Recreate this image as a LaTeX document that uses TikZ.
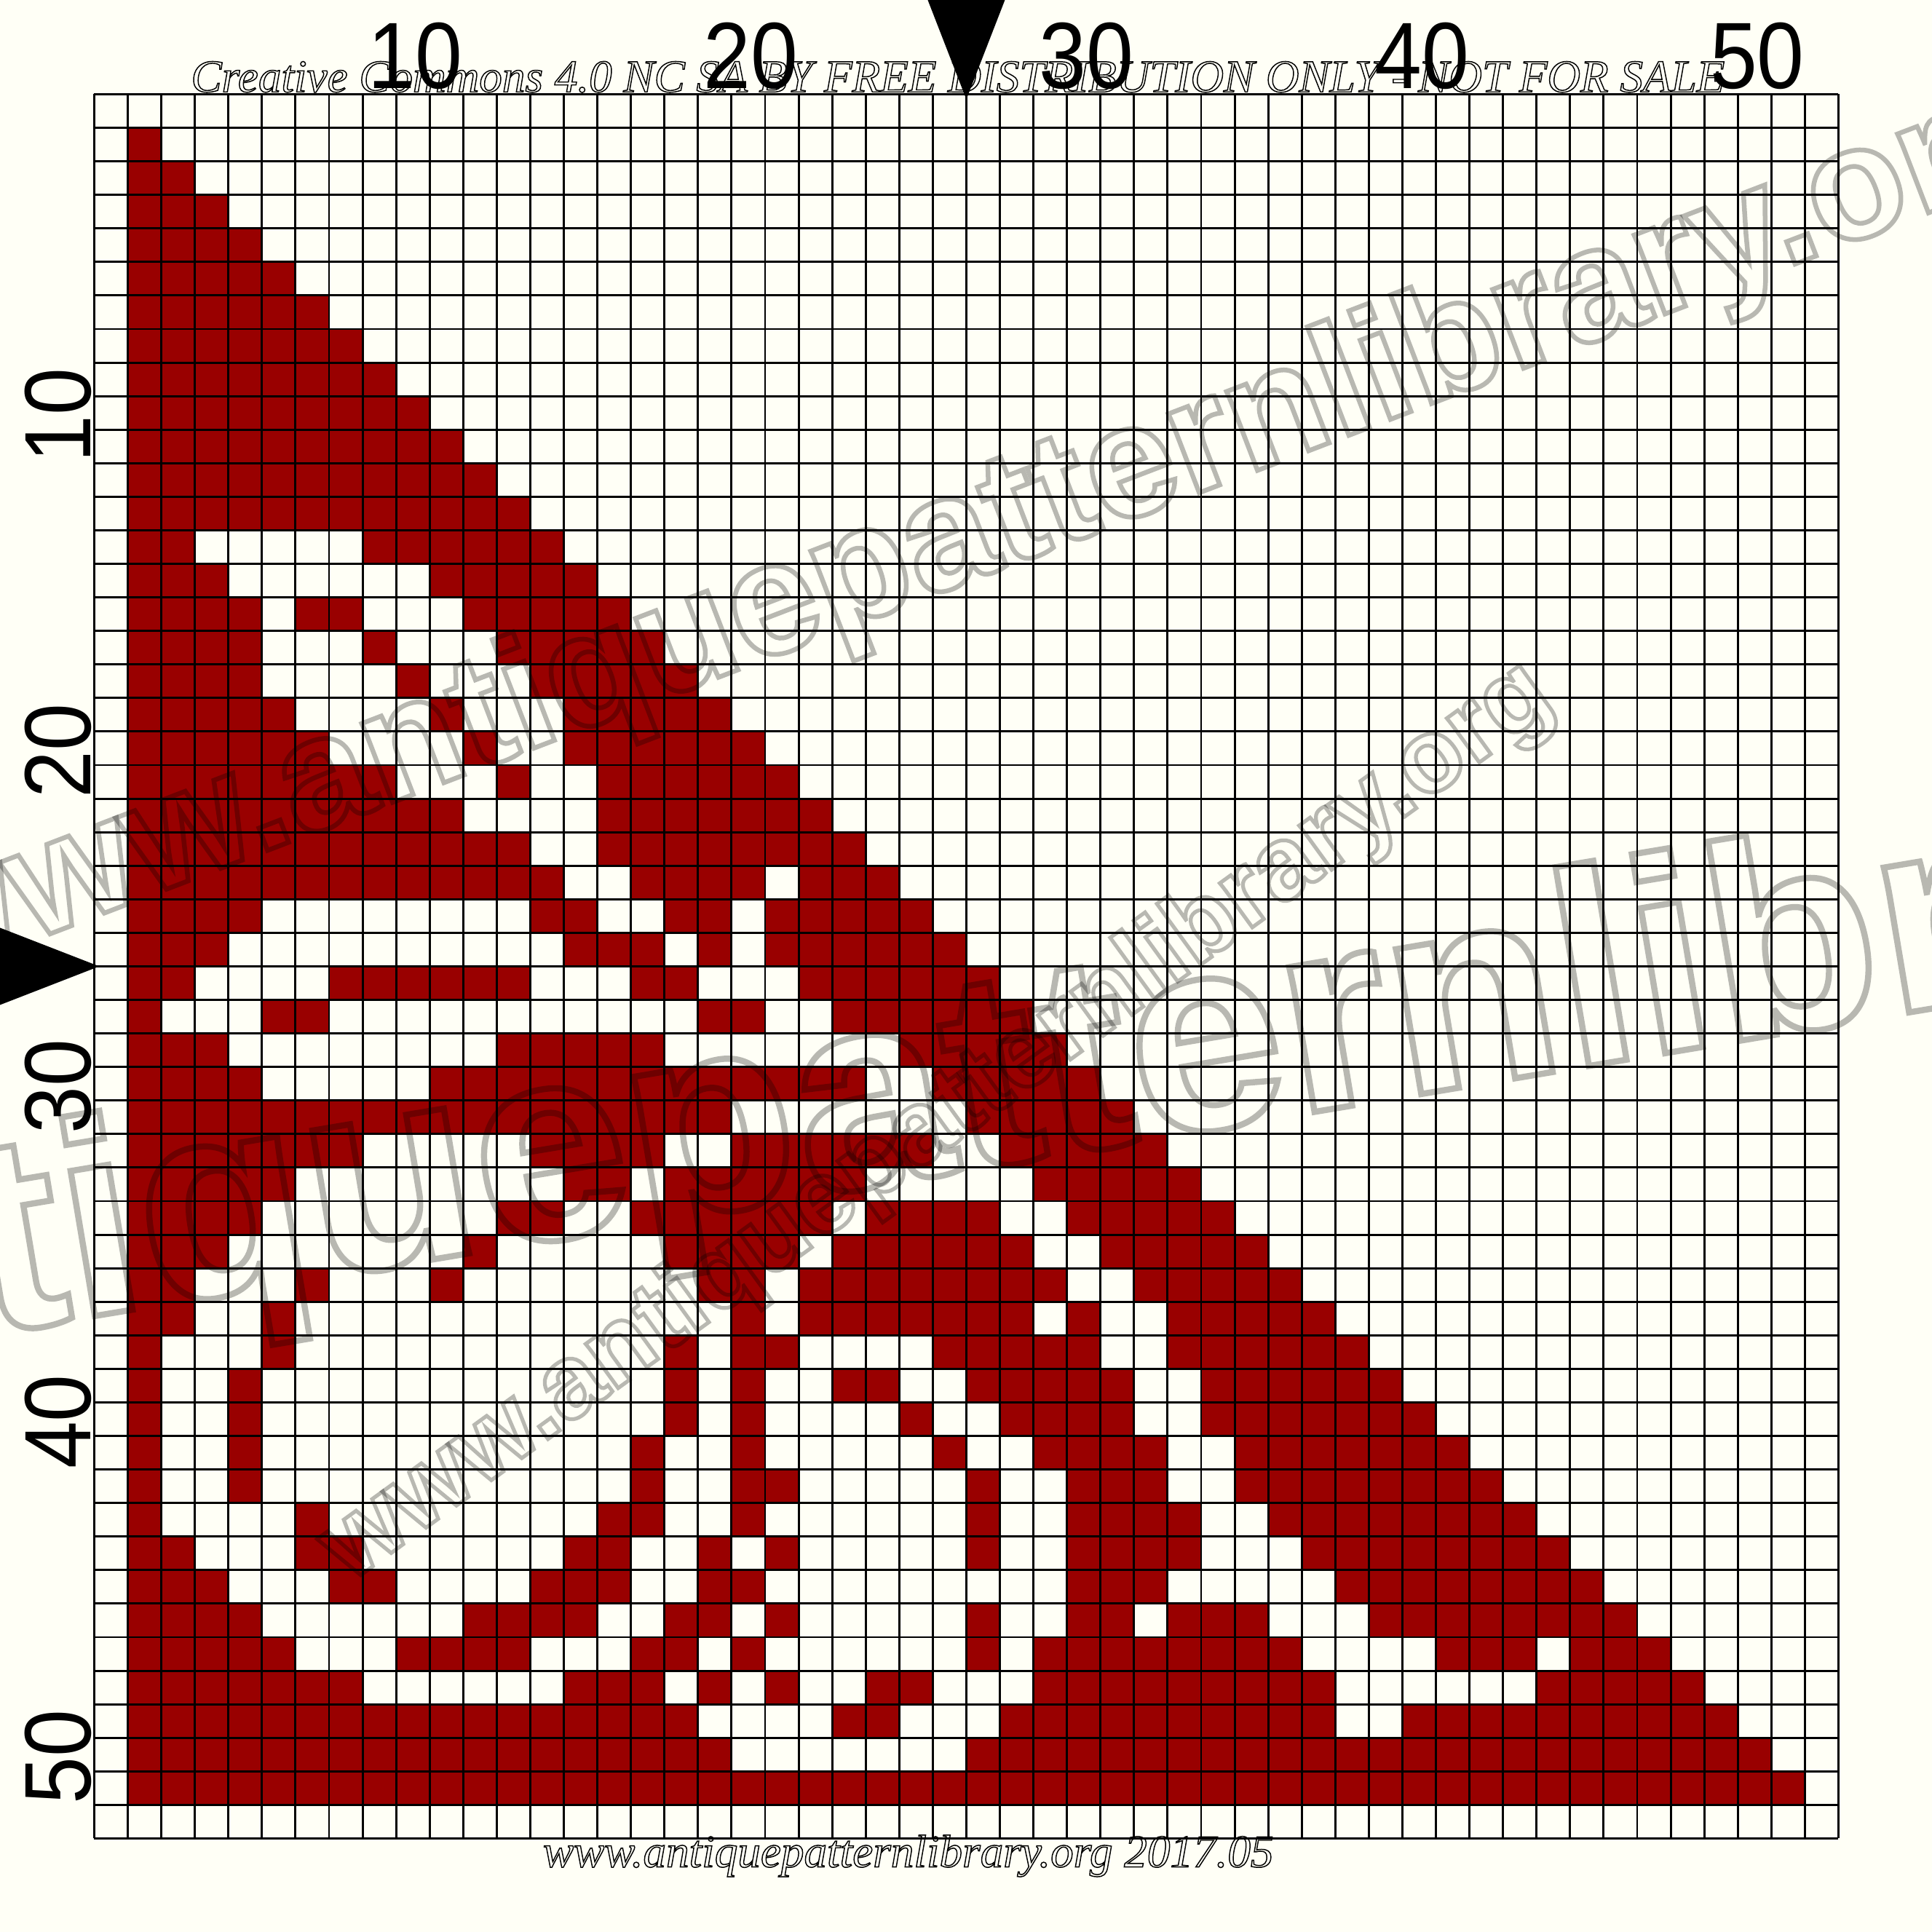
\documentclass[tikz,border=0pt]{standalone}
\usepackage{fontspec}
\usepackage{xcolor}
\usepackage{graphicx}
\usepackage{tikz}
\usetikzlibrary{calc}
\setmainfont{Liberation Serif}
\newfontfamily\rulerfont{Liberation Sans}
\definecolor{paper}{RGB}{255,255,246}
\definecolor{stitchred}{RGB}{153,0,0}
\newcommand\hollowtext[2]{\special{pdf:literal direct 1 Tr #1 w}#2\special{pdf:literal direct 0 Tr}}

\begin{document}
\begin{tikzpicture}[
        x=0.5cm, y=0.5cm,
        stitch/.style={fill=stitchred},
        gridline/.style={line width=0.9pt, black, step=1},
        ruler/.style={inner sep=0pt, font=\rulerfont\fontsize{40}{40}\selectfont},
        note/.style={inner sep=0pt, font=\itshape\fontsize{19.5}{20}\selectfont},
        marker/.style={fill=black},
        wmark/.style={inner sep=0pt, anchor=base west}
    ]

    \useasboundingbox (-3.81,-53.79) rectangle (53.79,3.81);
    \fill[paper] (-3.81,-53.79) rectangle (53.79,3.81);

    % solid top of the triangle
    \foreach \r in {1,...,12}
        \fill[stitch] (0,-\r) rectangle (\r,1-\r);

    % row/{first/last,...}
    \foreach \r/\runs in {
        13/{1/2,8/13}, 14/{1/3,10/14}, 15/{1/4,6/7,11/15}, 16/{1/4,8/8,12/16},
        17/{1/4,9/9,13/17}, 18/{1/5,10/10,14/18}, 19/{1/6,11/11,14/19},
        20/{1/8,12/12,15/20}, 21/{1/10,15/21}, 22/{1/12,15/22},
        23/{1/13,16/19,21/23}, 24/{1/4,13/14,17/18,20/24},
        25/{1/3,14/16,18/18,20/25}, 26/{1/2,7/12,16/17,21/26},
        27/{1/1,5/6,18/19,22/27}, 28/{1/3,12/16,24/28}, 29/{1/4,10/22,25/29},
        30/{1/18,26/30}, 31/{1/7,13/16,19/24,27/31}, 32/{1/5,14/15,17/22,28/32},
        33/{1/4,12/13,16/21,23/26,29/33}, 34/{1/3,11/11,17/20,22/27,30/34},
        35/{1/2,6/6,10/10,18/19,21/28,31/35}, 36/{1/2,5/5,19/19,21/27,29/29,32/36},
        37/{1/1,5/5,17/17,19/20,25/29,32/37},
        38/{1/1,4/4,17/17,19/19,22/23,26/30,33/38},
        39/{1/1,4/4,17/17,19/19,24/24,27/30,33/39},
        40/{1/1,4/4,16/16,19/19,25/25,28/31,34/40},
        41/{1/1,4/4,16/16,19/20,26/26,29/31,34/41},
        42/{1/1,6/6,15/16,19/19,26/26,29/32,35/42},
        43/{1/2,6/7,14/15,18/18,20/20,26/26,29/32,36/43},
        44/{1/3,7/8,13/15,18/19,29/31,37/44},
        45/{1/4,11/14,17/18,20/20,26/26,29/30,32/34,38/45},
        46/{1/5,9/12,16/17,19/19,26/26,28/35,40/42,44/46},
        47/{1/7,14/16,18/18,20/20,23/24,28/36,43/47},
        48/{1/17,22/23,27/36,39/48}, 49/{1/18,26/49}, 50/{1/50}}
        \foreach \a/\b in \runs
            \fill[stitch] (\a-1,-\r) rectangle (\b,1-\r);

    \draw[gridline] (-1,-51) grid (51,1);

    \node[note, anchor=base] (header) at (24.75,1.07) {\hollowtext{0.45}{Creative Commons 4.0 NC SA BY FREE DISTRIBUTION ONLY - NOT FOR SALE}};
    \node[note, anchor=base] (footer) at (23.27,-51.85) {\hollowtext{0.45}{www.antiquepatternlibrary.org 2017.05}};

    \foreach \n in {10,20,...,50} {
        \node[ruler, anchor=base east] (top\n) at (\n,1.18) {\scalebox{0.9}[1]{\n}};
        \node[ruler, anchor=base west, rotate=90] (side\n) at (-1.1,-\n) {\scalebox{0.9}[1]{\n}};
    }

    \fill[marker] (23.85,3.81) -- (26.15,3.81) -- (25,0.85) -- cycle;
    \fill[marker] (-3.81,-23.85) -- (-3.81,-26.15) -- (-0.85,-25) -- cycle;

    % watermark
    \begin{scope}[opacity=0.28]
        \clip (-3.81,-53.79) rectangle (53.79,3.81);
        \node[wmark, rotate=21, font=\rulerfont\bfseries\fontsize{68}{68}\selectfont] (markA) at (-6.4,-25.6) {\hollowtext{2}{www.antiquepatternlibrary.org}};
        \node[wmark, rotate=9.5, font=\rulerfont\bfseries\fontsize{118}{118}\selectfont] (markB) at (-34.9,-41.1) {\hollowtext{2.6}{www.antiquepatternlibrary.org}};
        \node[wmark, rotate=36, font=\rulerfont\bfseries\fontsize{44}{44}\selectfont] (markC) at (6.6,-43.4) {\hollowtext{1.6}{www.antiquepatternlibrary.org}};
    \end{scope}
\end{tikzpicture}
\end{document}
